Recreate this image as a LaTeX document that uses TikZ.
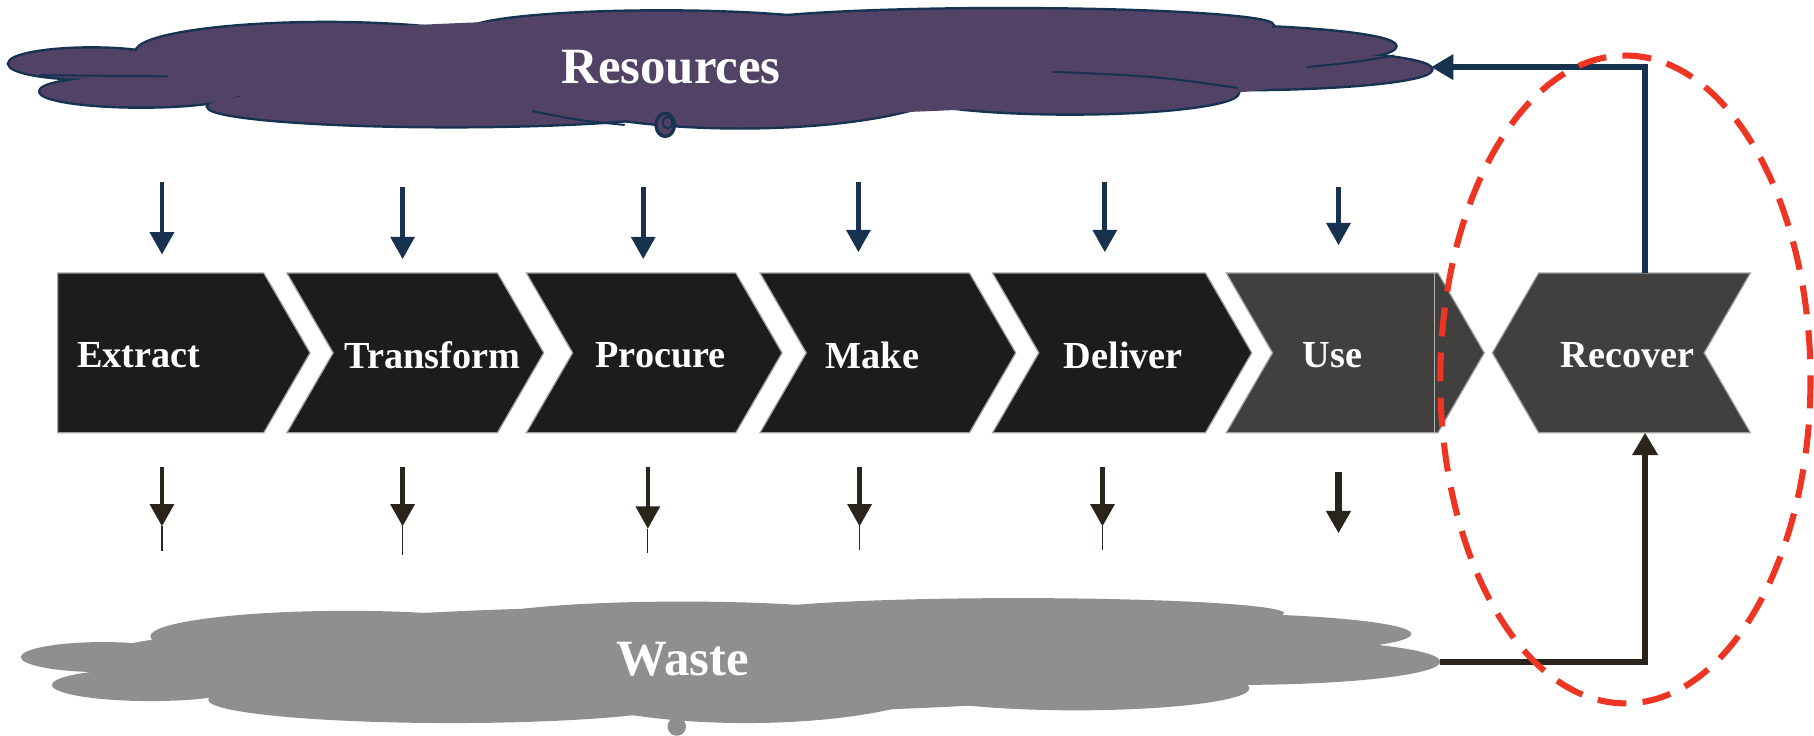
\documentclass[tikz,border=0pt]{standalone}
\usepackage{fontspec}
\setmainfont{Liberation Serif}
\usetikzlibrary{arrows.meta}

\definecolor{resfill}{HTML}{524266}
\definecolor{resline}{HTML}{173352}
\definecolor{navyarrow}{HTML}{17324F}
\definecolor{darkarrow}{HTML}{29251A}
\definecolor{chevblack}{HTML}{1C1C1A}
\definecolor{chevgray}{HTML}{423F3F}
\definecolor{wastefill}{HTML}{8F8F8F}
\definecolor{loopred}{HTML}{EE3524}

\tikzset{
  chev/.style={draw=gray!75, line width=0.3pt},
  steplabel/.style={text=white, font=\fontsize{9.4}{11}\selectfont\bfseries, inner sep=0pt},
  cloudtext/.style={text=white, font=\fontsize{12.5}{15}\selectfont\bfseries, inner sep=0pt},
  inflow/.style={navyarrow, line width=1.15pt, -{Triangle[length=5.5pt,width=5.8pt]}},
  outflow/.style={darkarrow, line width=1.15pt, -{Triangle[length=5.5pt,width=5.8pt]}},
  loopback/.style={line width=1.4pt, -{Triangle[length=5.5pt,width=6pt]}},
}

\begin{document}
\begin{tikzpicture}[x=0.01cm, y=-0.01cm]
\useasboundingbox (0,0) rectangle (1568,636);

% resources cloud: outlines first, then the fill on top
\foreach \cx/\cy/\rx/\ry in {79/55/71/13, 122/79/87/13, 282/45/164/25, 390/92/210/17, 572/27/168/17, 640/68/190/42, 870/22/230/14, 1018/40/188/18, 1068/60/169/17, 925/80/145/18}
  \draw[resline, line width=1.2pt] (\cx,\cy) ellipse [x radius=\rx, y radius=\ry];
\foreach \cx/\cy/\rx/\ry in {79/55/71/13, 122/79/87/13, 282/45/164/25, 390/92/210/17, 572/27/168/17, 640/68/190/42, 870/22/230/14, 1018/40/188/18, 1068/60/169/17, 925/80/145/18, 620/60/540/36, 600/58/480/42}
  \fill[resfill] (\cx,\cy) ellipse [x radius=\rx, y radius=\ry];
\draw[resline, line width=0.5pt] (1205,48) .. controls (1170,54) .. (1130,58);
\draw[resline, line width=0.5pt] (910,62) .. controls (1000,66) .. (1070,76);
\draw[resline, line width=0.5pt] (35,65) -- (145,66);
\draw[resline, line width=0.5pt] (460,96) .. controls (500,104) .. (540,108);
\draw[resline, line width=0.8pt, fill=resfill] (575,108) ellipse [x radius=8, y radius=10];
\draw[resline, line width=0.5pt] (577,106) ellipse [x radius=4, y radius=5];
\node[cloudtext] (res) at (580,58) {Resources};
\coordinate (resR) at (1237,58);

% waste cloud
\foreach \cx/\cy/\rx/\ry in {89/568/71/13, 130/592/85/14, 300/550/170/22, 390/605/210/20, 590/535/170/15, 645/580/185/45, 880/530/230/13, 1030/548/190/18, 1072/572/173/20, 930/595/150/19, 620/570/540/40, 600/570/480/46}
  \fill[wastefill] (\cx,\cy) ellipse [x radius=\rx, y radius=\ry];
\fill[wastefill] (585,628) ellipse [x radius=8, y radius=8];
\node[cloudtext] (waste) at (590,570) {Waste};
\coordinate (wasteR) at (1245,572);

% value chain
\draw[chev, fill=chevblack] (50,236) -- (228,236) -- (268,305) -- (228,374) -- (50,374) -- cycle;
\foreach \l/\r/\c in {248/430/chevblack, 455/636/chevblack, 657/838/chevblack, 858/1042/chevblack, 1060/1243/chevgray}
  \draw[chev, fill=\c] (\l,236) -- (\r,236) -- (\r+40,305) -- (\r,374) -- (\l,374) -- (\l+40,305) -- cycle;
\draw[gray!60, line width=0.3pt] (1240,236) -- (1240,374);
\draw[chev, fill=chevgray] (1330,236) -- (1513,236) -- (1473,305) -- (1513,374) -- (1330,374) -- (1290,305) -- cycle;

\node[steplabel] (extract) at (120,307) {Extract};
\node[steplabel] (transform) at (374,307) {Transform};
\node[steplabel] (procure) at (571,307) {Procure};
\node[steplabel] (make) at (754,307) {Make};
\node[steplabel] (deliver) at (971,307) {Deliver};
\node[steplabel] (use) at (1152,307) {Use};
\node[steplabel] (recover) at (1407,307) {Recover};
\coordinate (recTop) at (1422,236);
\coordinate (recBot) at (1422,374);

% flows in and out of each step
\foreach \x/\a/\b in {140/157/220, 348/162/224, 556/162/224, 742/157/218, 955/157/218, 1157/162/212}
  \draw[inflow] (\x,\a) coordinate (in\x) -- (\x,\b);
\foreach \x/\b/\t in {140/455/476, 348/455/480, 560/457/478, 743/455/475, 953/455/475}
{
  \draw[outflow] (\x,404) coordinate (out\x) -- (\x,\b);
  \draw[darkarrow, line width=0.3pt] (\x,\b) -- (\x,\t);
}
\draw[outflow, line width=1.7pt] (1157,408) coordinate (out1157) -- (1157,461);

% recovery loop
\draw[loopback, navyarrow] (recTop) |- (resR);
\draw[loopback, darkarrow] (wasteR) -| (recBot);
\draw[loopred, line width=1.5pt, dash pattern=on 0.25cm off 0.14cm] (1405,328) ellipse [x radius=160, y radius=280];
\end{tikzpicture}
\end{document}
